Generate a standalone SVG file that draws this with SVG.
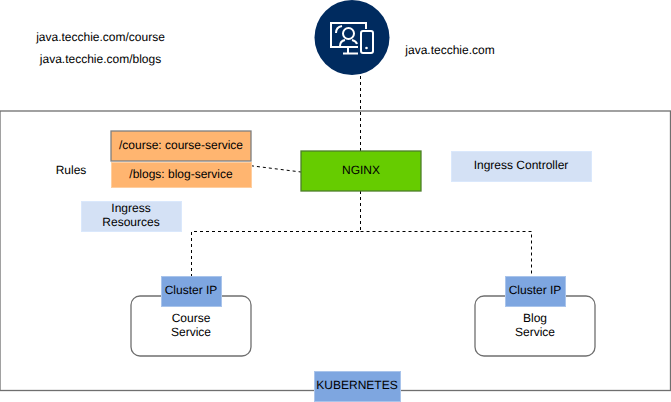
<svg xmlns="http://www.w3.org/2000/svg" width="671" height="402" viewBox="0 0 671 402">
<style>
text{font-family:"Liberation Sans",Arial,sans-serif;font-size:12px;fill:#000;text-anchor:middle;text-rendering:geometricPrecision}
.box{fill:#fff;stroke:#6f6f6f;stroke-width:1.3}
.blue{fill:#7ea6e0;stroke:#a9c4eb}
.light{fill:#d4e1f5;stroke:#dae8fc}
.orange{fill:#ffb570}
.dash{fill:none;stroke:#000;stroke-dasharray:3 3}
.ic{fill:none;stroke:#fff;stroke-width:2}
</style>
<g id="cluster"><rect x="0" y="111" width="670.500" height="279.500" class="box"/></g>
<g id="connectors">
<path class="dash" d="M360.500 76V151"/>
<path class="dash" d="M360.500 191V231.500H191.500V276"/>
<path class="dash" d="M360.500 231.500H531.500V276"/>
<path class="dash" d="M245 165L301 172"/>
</g>
<g id="client">
<circle cx="352" cy="37.500" r="37.500" fill="#002b5f"/>
<path class="ic" d="M358 47H331V23H366V29"/>
<path class="ic" d="M336 33Q336 27 342 26"/>
<circle class="ic" cx="348.500" cy="33.500" r="5.500"/>
<path class="ic" d="M340 46Q340 41 345 40M352 40Q356 41 357 44"/>
<path class="ic" d="M348 47V53M343 53.500H358"/>
<rect class="ic" x="361" y="31" width="12" height="22" rx="2"/>
<circle cx="366.500" cy="48" r="1.300" fill="#fff"/>
</g>
<g id="url1"><text x="100.500" y="41">java.tecchie.com/course</text></g>
<g id="url2"><text x="100.500" y="63">java.tecchie.com/blogs</text></g>
<g id="host"><text x="450" y="54">java.tecchie.com</text></g>
<g id="course-rule"><rect x="111" y="131" width="140" height="30" class="orange" stroke="#7f7f7f" stroke-width="1.300"/><text x="181" y="149">/course: course-service</text></g>
<g id="blogs-rule"><rect x="111.500" y="162.500" width="140" height="25" class="orange" stroke="#ffce9f"/><text x="181" y="178">/blogs: blog-service</text></g>
<g id="rules"><text x="71" y="174">Rules</text></g>
<g id="ingress-resources"><rect x="81.500" y="201.500" width="100" height="30" class="light"/><text x="131" y="212">Ingress</text><text x="131" y="226">Resources</text></g>
<g id="nginx"><rect x="301" y="151" width="120" height="40" fill="#66cc00" stroke="#4d7f2a" stroke-width="1.300"/><text x="361" y="174">NGINX</text></g>
<g id="ingress-controller"><rect x="451.500" y="151.500" width="140" height="30" class="light"/><text x="521" y="169">Ingress Controller</text></g>
<g id="course-service"><rect x="131" y="296" width="120" height="60" rx="9" class="box"/><text x="191" y="322">Course</text><text x="191" y="336">Service</text></g>
<g id="course-ip"><rect x="161.500" y="276.500" width="60" height="30" class="blue"/><text x="191" y="294">Cluster IP</text></g>
<g id="blog-service"><rect x="475" y="296" width="120" height="60" rx="9" class="box"/><text x="535" y="322">Blog</text><text x="535" y="336">Service</text></g>
<g id="blog-ip"><rect x="505.500" y="276.500" width="60" height="30" class="blue"/><text x="535" y="294">Cluster IP</text></g>
<g id="kubernetes"><rect x="314.500" y="371.500" width="86" height="30" class="blue"/><text x="357" y="389">KUBERNETES</text></g>
</svg>
